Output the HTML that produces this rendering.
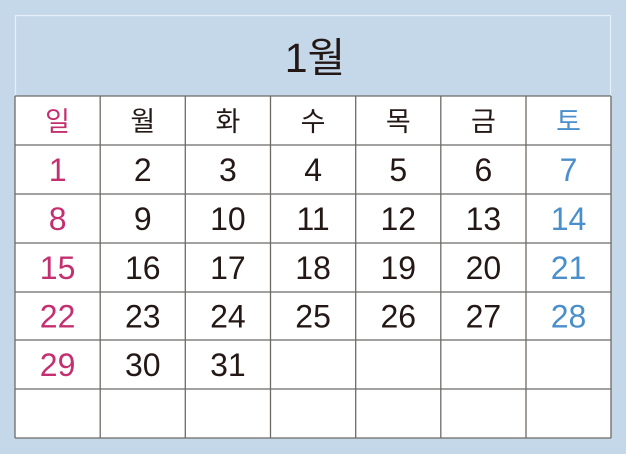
<!DOCTYPE html>
<html><head><meta charset="utf-8"><style>
html,body{margin:0;padding:0;background:#c5d8ea;}
svg{display:block;font-family:"Liberation Sans","Noto Sans CJK KR",sans-serif;}
</style></head><body>
<svg width="626" height="454" viewBox="0 0 626 454">
<rect x="0" y="0" width="626" height="454" fill="#c5d8ea"/>
<rect x="15.5" y="15.5" width="595" height="81" fill="none" stroke="#e6eef6" stroke-width="1.2"/>
<text x="315" y="72" text-anchor="middle" font-size="41" fill="#231815">1월</text>
<rect x="15" y="96" width="596" height="342" fill="#fff"/>
<g id="grid" stroke="#6e6a67" stroke-width="1.3"></g>
<g id="txt"></g>
<script>
const days=['일','월','화','수','목','금','토'];
const startDay=0, numDays=31;
const xs=[15,100.2,185.3,270.5,355.7,440.8,526,611];
const ys=[96,145,194,243,292,340,389,438];
const g=document.getElementById('grid'),t=document.getElementById('txt');
const NS='http://www.w3.org/2000/svg';
for(const x of xs){const l=document.createElementNS(NS,'line');l.setAttribute('x1',x);l.setAttribute('x2',x);l.setAttribute('y1',96);l.setAttribute('y2',438);


g.appendChild(l);}
for(const y of ys){const l=document.createElementNS(NS,'line');l.setAttribute('x1',15);l.setAttribute('x2',611);l.setAttribute('y1',y);l.setAttribute('y2',y);


g.appendChild(l);}
function col(i){return i==0?'#c4306f':i==6?'#4a8fcb':'#231815';}
days.forEach((d,i)=>{const e=document.createElementNS(NS,'text');e.setAttribute('x',(xs[i]+xs[i+1])/2);e.setAttribute('y',131);e.setAttribute('text-anchor','middle');e.setAttribute('font-size','27');e.setAttribute('fill',col(i));e.textContent=d;


t.appendChild(e);});
for(let n=1;n<=numDays;n++){const p=n-1+startDay,c=p%7,r=Math.floor(p/7)+1;const e=document.createElementNS(NS,'text');e.setAttribute('x',(xs[c]+xs[c+1])/2);e.setAttribute('y',(ys[r]+ys[r+1])/2+11.5);e.setAttribute('text-anchor','middle');e.setAttribute('font-size','32');e.setAttribute('fill',col(c));e.textContent=n;


t.appendChild(e);}
</script>
</svg>
</body></html>
